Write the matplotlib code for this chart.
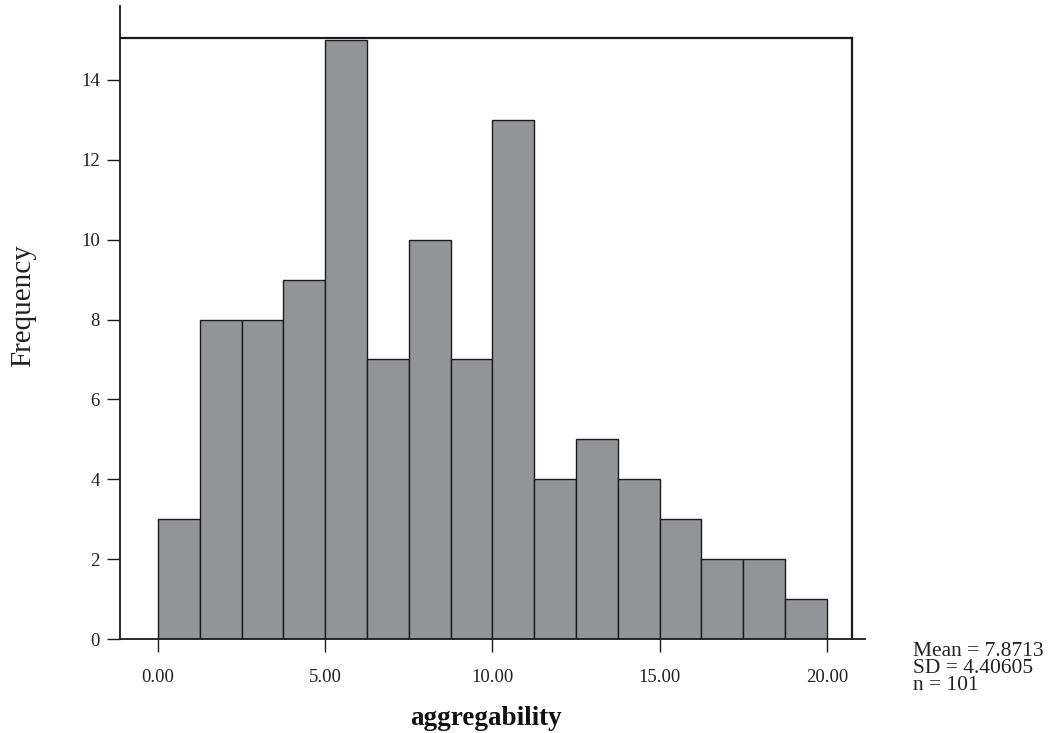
import matplotlib.pyplot as plt
import numpy as np

# histogram bins (width 1.25) and counts
bin_edges = np.arange(0, 20.0001, 1.25)
counts = [3, 8, 8, 9, 15, 7, 10, 7, 13, 4, 5, 4, 3, 2, 2, 1]
xticks = [0, 5, 10, 15, 20]
xtick_labels = ["0.00", "5.00", "10.00", "15.00", "20.00"]
yticks = [0, 2, 4, 6, 8, 10, 12, 14]
stats_text = "Mean = 7.8713\nSD = 4.40605\nn = 101"


def main():
    plt.rcParams['font.family'] = ['Liberation Serif', 'DejaVu Serif']

    fig = plt.figure(figsize=(10.53, 7.33), dpi=100)
    ax = fig.add_axes([0.114, 0.128, 0.7075, 0.864])

    # bars
    ax.bar(bin_edges[:-1], counts, width=1.25, align="edge",
           color="#939498", edgecolor="#1a1a1a", linewidth=1.0, zorder=2)

    ax.set_xlim(-1.136, 21.14)
    ax.set_ylim(0, 15.85)

    # the inner frame of the plot
    frame_top = 15.05
    frame_right = 20.75
    ax.plot([-1.136, frame_right], [frame_top, frame_top], color="#1a1a1a", lw=1.6, zorder=3)
    ax.plot([frame_right, frame_right], [0, frame_top], color="#1a1a1a", lw=1.6, zorder=3)

    for s in ["top", "right"]:
        ax.spines[s].set_visible(False)
    ax.spines["left"].set_linewidth(1.3)
    ax.spines["bottom"].set_linewidth(1.3)
    ax.spines["left"].set_color("#1a1a1a")
    ax.spines["bottom"].set_color("#1a1a1a")

    ax.set_xticks(xticks)
    ax.set_xticklabels(xtick_labels)
    ax.set_yticks(yticks)
    ax.tick_params(axis="both", labelsize=13.5, length=9.5, width=1.0,
                   color="#1a1a1a", labelcolor="#222222")
    ax.tick_params(axis="x", pad=12)
    ax.tick_params(axis="y", pad=5)

    ax.set_ylabel("Frequency", fontsize=21, color="#222222")
    ax.set_xlabel("aggregability", fontsize=19.5, fontweight="bold", color="#111111")
    # labels are centred on the inner frame, not on the whole axes
    ax.yaxis.set_label_coords(-0.112, 0.526)
    ax.xaxis.set_label_coords(0.491, -0.106)

    fig.text(0.867, 0.052, stats_text, fontsize=15.5, va="bottom", ha="left",
             linespacing=0.86, color="#222222")

    fig.savefig("out.png", dpi=100)


if __name__ == "__main__":
    main()
